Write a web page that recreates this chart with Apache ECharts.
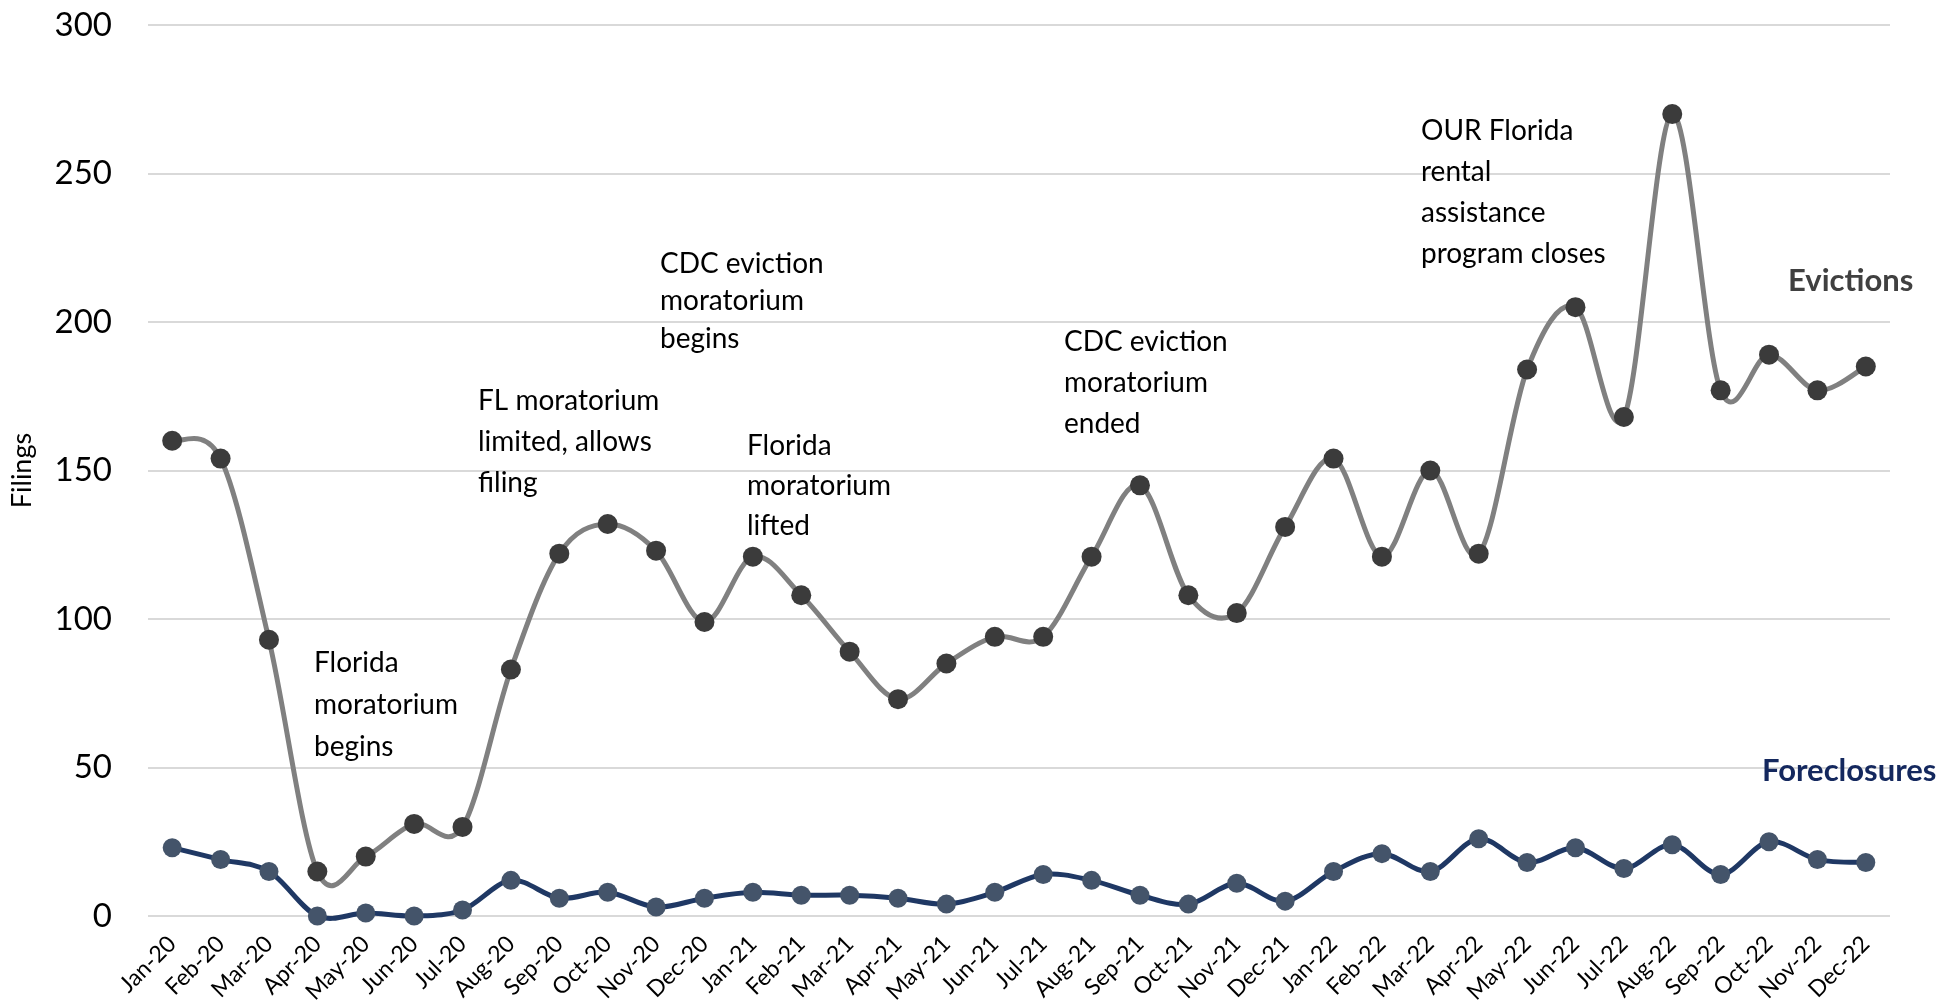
<!DOCTYPE html>
<html>
<head>
<meta charset="utf-8">
<script src="https://cdn.jsdelivr.net/npm/echarts@6/dist/echarts.min.js"></script>
<style>
html,body{margin:0;padding:0;background:#fff;}
#chart{width:1959px;height:1007px;}
</style>
</head>
<body>
<div id="chart"></div>
<script>
const categories = ['Jan-20','Feb-20','Mar-20','Apr-20','May-20','Jun-20','Jul-20','Aug-20','Sep-20','Oct-20','Nov-20','Dec-20',
  'Jan-21','Feb-21','Mar-21','Apr-21','May-21','Jun-21','Jul-21','Aug-21','Sep-21','Oct-21','Nov-21','Dec-21',
  'Jan-22','Feb-22','Mar-22','Apr-22','May-22','Jun-22','Jul-22','Aug-22','Sep-22','Oct-22','Nov-22','Dec-22'];
const evictions = [160,154,93,15,20,31,30,83,122,132,123,99,
  121,108,89,73,85,94,94,121,145,108,102,131,
  154,121,150,122,184,205,168,270,177,189,177,185];
const foreclosures = [23,19,15,0,1,0,2,12,6,8,3,6,
  8,7,7,6,4,8,14,12,7,4,11,5,
  15,21,15,26,18,23,16,24,14,25,19,18];
const yTicks = {min:0, max:300, interval:50};
const annotations = [
  {text:'Florida\nmoratorium\nbegins', left:314, top:642, lh:42},
  {text:'FL moratorium\nlimited, allows\nfiling', left:478, top:380, lh:41},
  {text:'CDC eviction\nmoratorium\nbegins', left:660, top:245, lh:37.5},
  {text:'Florida\nmoratorium\nlifted', left:747, top:426, lh:40},
  {text:'CDC eviction\nmoratorium\nended', left:1064, top:321, lh:41},
  {text:'OUR Florida\nrental\nassistance\nprogram closes', left:1421, top:110, lh:41}
];

const chart = echarts.init(document.getElementById('chart'));
const FONT = 'Lato';
const graphics = annotations.map(a => ({
  type:'text', left:a.left, top:a.top, z:100,
  style:{text:a.text, font:'28px ' + FONT, fill:'#000', lineHeight:a.lh}
}));
graphics.push({type:'text', left:1788, top:265, z:100,
  style:{text:'Evictions', font:'bold 31px ' + FONT, fill:'#404040'}});
graphics.push({type:'text', left:1762, top:755, z:100,
  style:{text:'Foreclosures', font:'bold 31px ' + FONT, fill:'#14285e'}});

// Smooth curve (Catmull-Rom style, like spreadsheet smoothed lines) through data via axis scales
function smoothCurve(values, color, width, z) {
  const n = values.length;
  return {
    type:'custom', coordinateSystem:'cartesian2d', z:z, silent:true,
    data: values.map((v, i) => [i, v]),
    encode:{x:0, y:1},
    renderItem: function (params, api) {
      const i = params.dataIndex;
      if (i >= n - 1) return null;
      const p = k => api.coord([Math.max(0, Math.min(n - 1, k)), values[Math.max(0, Math.min(n - 1, k))]]);
      const p0 = p(i - 1), p1 = p(i), p2 = p(i + 1), p3 = p(i + 2);
      const t = 1 / 6;
      return {
        type:'bezierCurve',
        shape:{
          x1:p1[0], y1:p1[1], x2:p2[0], y2:p2[1],
          cpx1:p1[0] + (p2[0] - p0[0]) * t, cpy1:p1[1] + (p2[1] - p0[1]) * t,
          cpx2:p2[0] - (p3[0] - p1[0]) * t, cpy2:p2[1] - (p3[1] - p1[1]) * t
        },
        style:{stroke:color, lineWidth:width, fill:null, lineCap:'round'}
      };
    }
  };
}

chart.setOption({
  animation:false,
  backgroundColor:'#fff',
  grid:{left:148, right:69, top:25, bottom:91, containLabel:false, outerBoundsMode:'none'},
  xAxis:{
    type:'category', data:categories, boundaryGap:true,
    axisLine:{show:false}, axisTick:{show:false},
    axisLabel:{rotate:45, interval:0, margin:24, fontSize:23, fontFamily:FONT, color:'#000'}
  },
  yAxis:{
    type:'value', min:yTicks.min, max:yTicks.max, interval:yTicks.interval,
    name:'Filings', nameLocation:'middle', nameGap:112, nameRotate:90,
    nameTextStyle:{fontSize:27, fontFamily:FONT, color:'#000'},
    axisLine:{show:false}, axisTick:{show:false},
    axisLabel:{fontSize:33, fontFamily:FONT, color:'#000', margin:36},
    splitLine:{lineStyle:{color:'#d9d9d9', width:2}}
  },
  series:[
    smoothCurve(foreclosures, '#1f3864', 5, 2),
    smoothCurve(evictions, '#808080', 5, 3),
    {name:'Foreclosures', type:'line', data:foreclosures,
      symbol:'circle', symbolSize:19, lineStyle:{opacity:0},
      itemStyle:{color:'#44546a'}, z:4},
    {name:'Evictions', type:'line', data:evictions,
      symbol:'circle', symbolSize:20, lineStyle:{opacity:0},
      itemStyle:{color:'#3b3b3b'}, z:5}
  ],
  graphic:graphics
});
</script>
</body>
</html>
